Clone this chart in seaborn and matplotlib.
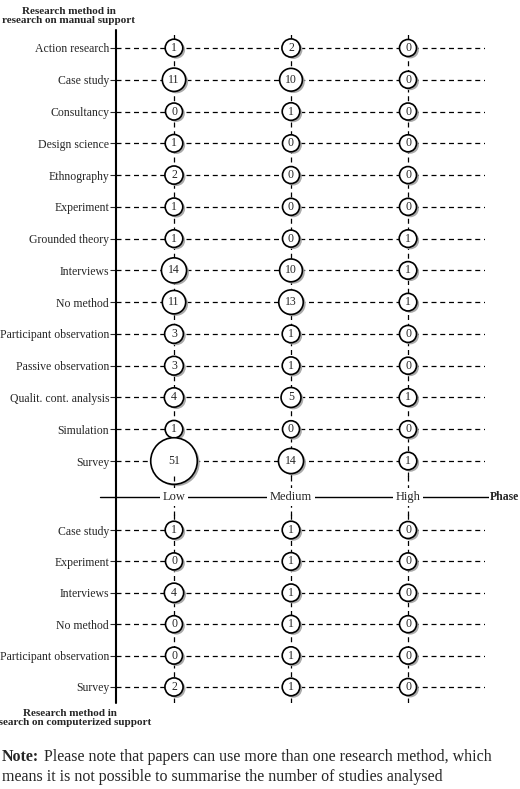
import matplotlib
matplotlib.use("Agg")
import matplotlib.pyplot as plt
import seaborn as sns
import pandas as pd

sns.set_style("white")
plt.rcParams['font.family'] = ['Liberation Serif', 'DejaVu Serif']

phases = ["Low", "Medium", "High"]

manual_methods = ["Action research", "Case study", "Consultancy", "Design science",
                  "Ethnography", "Experiment", "Grounded theory", "Interviews",
                  "No method", "Participant observation", "Passive observation",
                  "Qualit. cont. analysis", "Simulation", "Survey"]
manual_low = [1, 11, 0, 1, 2, 1, 1, 14, 11, 3, 3, 4, 1, 51]
manual_medium = [2, 10, 1, 0, 0, 0, 0, 10, 13, 1, 1, 5, 0, 14]
manual_high = [0, 0, 0, 0, 0, 0, 1, 1, 1, 0, 0, 1, 0, 1]

comp_methods = ["Case study", "Experiment", "Interviews", "No method",
                "Participant observation", "Survey"]
comp_low = [1, 0, 4, 0, 0, 2]
comp_medium = [1, 1, 1, 1, 1, 1]
comp_high = [0, 0, 0, 0, 0, 0]

W, H = 520, 789
fig = plt.figure(figsize=(W / 100, H / 100), dpi=100)

x_left_px, x_right_px = 116, 485
low_px, step_px = 174, 117
xlim = (-(low_px - x_left_px) / step_px, (x_right_px - low_px) / step_px)


def panel(methods, low, med, high, top_px, bot_px):
    ax = fig.add_axes([x_left_px / W, 1 - bot_px / H,
                       (x_right_px - x_left_px) / W, (bot_px - top_px) / H])
    df = pd.DataFrame({
        "method": methods * 3,
        "row": list(range(len(methods))) * 3,
        "phase": [p for p in phases for _ in methods],
        "x": [i for i in range(3) for _ in methods],
        "n": low + med + high,
    })
    # circle size in points^2
    df["s"] = ((8.5 + 0.29 * df["n"]) * 0.72 * 2) ** 2
    for r in range(len(methods)):
        ax.axhline(r, color="black", lw=0.9, ls=(0, (4, 3)), zorder=1)
    for i in range(3):
        ax.axvline(i, color="black", lw=0.9, ls=(0, (4, 3)), zorder=1)
    shadow = df.copy()
    shadow["x"] = shadow["x"] + 0.02
    shadow["row"] = shadow["row"] + 0.06
    ax.scatter(shadow["x"], shadow["row"], s=shadow["s"], color="#aaaaaa",
               edgecolor="none", zorder=2, clip_on=False)
    sns.scatterplot(data=df, x="x", y="row", size="s", sizes=(df["s"].min(), df["s"].max()),
                    color="white", edgecolor="black", linewidth=1.2, legend=False,
                    ax=ax, zorder=3, clip_on=False)
    for _, d in df.iterrows():
        ax.text(d["x"], d["row"], str(d["n"]), ha="center", va="center",
                fontsize=8.5, zorder=4)
    ax.set_xlim(*xlim)
    ax.set_ylim(len(methods) - 0.5, -0.5)
    ax.set_yticks(range(len(methods)))
    ax.set_yticklabels(methods, fontsize=8.5)
    ax.tick_params(axis="y", length=4, width=0.8, pad=1, left=True)
    ax.set_xticks([])
    ax.set_xlabel("")
    ax.set_ylabel("")
    for s in ax.spines.values():
        s.set_visible(False)
    ax.patch.set_alpha(0)
    return ax


panel(manual_methods, manual_low, manual_medium, manual_high, 48 - 15.9, 461 + 15.9)
panel(comp_methods, comp_low, comp_medium, comp_high, 530 - 15.7, 687 + 15.7)

# overlay for axis line, phase line and texts
ov = fig.add_axes([0, 0, 1, 1])
ov.set_xlim(0, W)
ov.set_ylim(H, 0)
ov.axis("off")
ov.patch.set_alpha(0)
for i in range(3):
    ov.plot([low_px + i * step_px] * 2, [476, 515], color="black", lw=0.9, ls=(0, (4, 3)))
ov.plot([116, 116], [30, 703], color="black", lw=1.5)
ov.plot([100, 490], [497, 497], color="black", lw=1.0)
for i, p in enumerate(phases):
    ov.text(low_px + i * step_px, 497, p, ha="center", va="center", fontsize=9,
            bbox=dict(facecolor="white", edgecolor="none", pad=2))
ov.text(490, 497, "Phase", ha="left", va="center", fontsize=8.5, fontweight="bold",
        bbox=dict(facecolor="white", edgecolor="none", pad=1))
ov.text(69, 16, "Research method in\nresearch on manual support", ha="center", va="center",
        fontsize=8, fontweight="bold", linespacing=1.1)
ov.text(70, 718, "Research method in\nresearch on computerized support", ha="center",
        va="center", fontsize=8, fontweight="bold", linespacing=1.1)
ov.text(2, 757, "Note:", ha="left", va="center", fontsize=11.5, fontweight="bold")
ov.text(44, 757, "Please note that papers can use more than one research method, which",
        ha="left", va="center", fontsize=11.5)
ov.text(2, 777, "means it is not possible to summarise the number of studies analysed",
        ha="left", va="center", fontsize=11.5)

fig.savefig("out.png", dpi=100, facecolor="white")
